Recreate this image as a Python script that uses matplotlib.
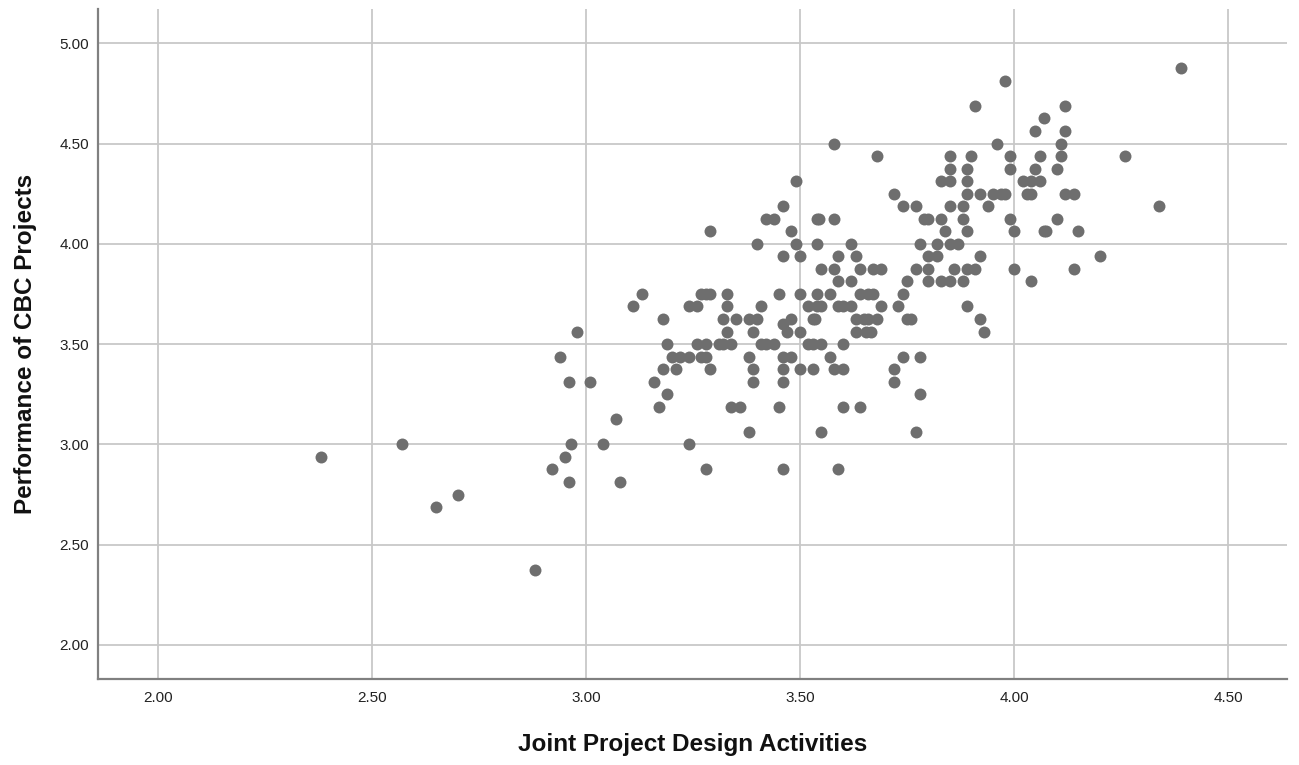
import numpy as np
import matplotlib
matplotlib.use('Agg')
import matplotlib.pyplot as plt

plt.rcParams['font.family'] = ['Liberation Sans', 'DejaVu Sans']

# Points, grouped by y level
rows = {
    4.875: [4.39],
    4.8125: [3.98],
    4.6875: [3.91, 4.12],
    4.625: [4.07],
    4.5625: [4.05, 4.12],
    4.5: [3.58, 3.96, 4.11],
    4.4375: [3.68, 3.85, 3.90, 3.99, 4.06, 4.11, 4.26],
    4.375: [3.85, 3.89, 3.99, 4.05, 4.10],
    4.3125: [3.49, 3.83, 3.85, 3.89, 4.02, 4.04, 4.06],
    4.25: [3.72, 3.89, 3.92, 3.95, 3.97, 3.98, 4.03, 4.04, 4.12, 4.14],
    4.1875: [3.46, 3.74, 3.77, 3.85, 3.88, 3.94, 4.34],
    4.125: [3.42, 3.44, 3.54, 3.545, 3.58, 3.79, 3.80, 3.83, 3.88, 3.99, 4.10],
    4.0625: [3.29, 3.48, 3.84, 3.89, 4.00, 4.07, 4.075, 4.15],
    4.0: [3.40, 3.49, 3.54, 3.62, 3.78, 3.82, 3.85, 3.87],
    3.9375: [3.46, 3.50, 3.59, 3.63, 3.80, 3.82, 3.92, 4.20],
    3.875: [3.55, 3.58, 3.64, 3.67, 3.69, 3.77, 3.80, 3.86, 3.89, 3.91, 4.00, 4.14],
    3.8125: [3.59, 3.62, 3.75, 3.80, 3.83, 3.85, 3.88, 4.04],
    3.75: [3.13, 3.27, 3.28, 3.29, 3.33, 3.45, 3.50, 3.54, 3.57, 3.64, 3.66, 3.67, 3.74],
    3.6875: [3.11, 3.24, 3.26, 3.33, 3.41, 3.52, 3.54, 3.55, 3.59, 3.60, 3.62, 3.69, 3.73, 3.89],
    3.625: [3.18, 3.32, 3.35, 3.38, 3.40, 3.48, 3.53, 3.535, 3.63, 3.65, 3.66, 3.68, 3.75, 3.76, 3.92],
    3.60: [3.46],
    3.5625: [2.98, 3.33, 3.39, 3.47, 3.50, 3.63, 3.655, 3.665, 3.93],
    3.5: [3.19, 3.26, 3.28, 3.31, 3.32, 3.34, 3.41, 3.42, 3.44, 3.52, 3.53, 3.55, 3.60],
    3.4375: [2.94, 3.20, 3.22, 3.24, 3.27, 3.28, 3.38, 3.46, 3.48, 3.57, 3.74, 3.78],
    3.375: [3.18, 3.21, 3.29, 3.39, 3.46, 3.50, 3.53, 3.58, 3.60, 3.72],
    3.3125: [2.96, 3.01, 3.16, 3.39, 3.46, 3.72],
    3.25: [3.19, 3.78],
    3.1875: [3.17, 3.34, 3.36, 3.45, 3.60, 3.64],
    3.125: [3.07],
    3.0625: [3.38, 3.55, 3.77],
    3.0: [2.57, 2.965, 3.04, 3.24],
    2.9375: [2.38, 2.95],
    2.875: [2.92, 3.28, 3.46, 3.59],
    2.8125: [2.96, 3.08],
    2.75: [2.70],
    2.6875: [2.65],
    2.375: [2.88],
}

x_vals = [x for yv, xs in rows.items() for x in xs]
y_vals = [yv for yv, xs in rows.items() for x in xs]

ticks = [2.00, 2.50, 3.00, 3.50, 4.00, 4.50]
tick_labels = ['2.00', '2.50', '3.00', '3.50', '4.00', '4.50']
y_ticks = [2.00, 2.50, 3.00, 3.50, 4.00, 4.50, 5.00]
y_tick_labels = ['2.00', '2.50', '3.00', '3.50', '4.00', '4.50', '5.00']

fig = plt.figure(figsize=(12.99, 7.65), dpi=100)
ax = fig.add_axes([0.0754, 0.1124, 0.9154, 0.8756])

ax.plot(x_vals, y_vals, 'o', color='#6e6e6e', markersize=8.6,
        markeredgewidth=0, zorder=3)

ax.set_xlim(1.86, 4.638)
ax.set_ylim(1.83, 5.17)
ax.set_xticks(ticks)
ax.set_xticklabels(tick_labels)
ax.set_yticks(y_ticks)
ax.set_yticklabels(y_tick_labels)
ax.tick_params(length=0, labelsize=11, colors='#222222')
ax.tick_params(axis='x', pad=8.5)
ax.tick_params(axis='y', pad=6.5)

ax.grid(True, color='#c8c8c8', linewidth=1.3, zorder=0)
ax.set_axisbelow(True)
for s in ['top', 'right']:
    ax.spines[s].set_visible(False)
for s in ['left', 'bottom']:
    ax.spines[s].set_color('#808080')
    ax.spines[s].set_linewidth(1.6)

ax.set_xlabel('Joint Project Design Activities', fontsize=17.5, fontweight='bold',
              labelpad=20, color='#111111')
ax.set_ylabel('Performance of CBC Projects', fontsize=17.5, fontweight='bold',
              labelpad=16, color='#111111')

fig.savefig('out.png', dpi=100)
